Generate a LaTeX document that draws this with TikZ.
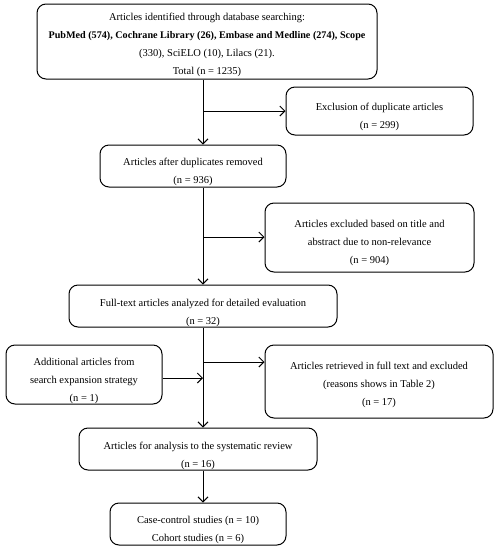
\documentclass[tikz,border=0pt]{standalone}
\usepackage{fontspec}
\setmainfont{Liberation Serif}
\usetikzlibrary{arrows.meta}
\begin{document}
\begin{tikzpicture}[x=1pt,y=-1pt,
  box/.style={draw, rounded corners=9pt, inner sep=0pt, line width=1pt},
  txt/.style={align=center, inner sep=0pt, font=\fontsize{10.5}{18}\selectfont},
  arr/.style={line width=1pt, -{Straight Barb[length=5pt,width=10pt,line width=1pt]}}]
\useasboundingbox (0,0) rectangle (497,550);
\coordinate (s) at (203,0);
\node[box, minimum width=340pt, minimum height=75pt] (top) at (207,41.5) {};
\node[txt] (topt) at ([yshift=-3pt]top.center)
  {Articles identified through database searching:\\
   {\fontsize{10.15}{18}\selectfont\bfseries PubMed (574), Cochrane Library (26), Embase and Medline (274), Scope}\\
   (330), SciELO (10), Lilacs (21).\\
   Total (n = 1235)};
\node[box, minimum width=187pt, minimum height=48pt] (ex1) at (379.5,111) {};
\node[txt] (ex1t) at ([yshift=-6pt]ex1.center)
  {Exclusion of duplicate articles\\(n = 299)};
\node[box, minimum width=186pt, minimum height=42pt] (dup) at (193,166) {};
\node[txt] (dupt) at ([yshift=-6pt]dup.center)
  {Articles after duplicates removed\\(n = 936)};
\node[box, minimum width=209pt, minimum height=69pt] (ex2) at (369.5,237.5) {};
\node[txt] (ex2t) at ([yshift=-5pt]ex2.center)
  {Articles excluded based on title and\\abstract due to non-relevance\\(n = 904)};
\node[box, minimum width=268pt, minimum height=42pt] (full) at (203,306) {};
\node[txt] (fullt) at ([yshift=-7pt]full.center)
  {Full-text articles analyzed for detailed evaluation\\(n = 32)};
\node[box, minimum width=156pt, minimum height=59pt] (add) at (84,374.5) {};
\node[txt] (addt) at ([yshift=-6pt]add.center)
  {Additional articles from\\search expansion strategy\\(n = 1)};
\node[box, minimum width=228pt, minimum height=73pt] (ret) at (379,381.5) {};
\node[txt] (rett) at ([yshift=-3pt]ret.center)
  {Articles retrieved in full text and excluded\\(reasons shows in Table 2)\\(n = 17)};
\node[box, minimum width=238pt, minimum height=42pt] (ana) at (198,449) {};
\node[txt] (anat) at ([yshift=-7pt]ana.center)
  {Articles for analysis to the systematic review\\(n = 16)};
\node[box, minimum width=176pt, minimum height=42pt] (fin) at (198,524) {};
\node[txt] (fint) at ([yshift=-6pt]fin.center)
  {Case-control studies (n = 10)\\Cohort studies (n = 6)};
\coordinate (j1) at (203,111);
\coordinate (j2) at (203,237);
\coordinate (j3) at (203,362);
\coordinate (j4) at (203,378);
\draw[arr] (top.south -| s) -- (dup.north -| s);
\draw[arr] (j1) -- (ex1.west |- j1);
\draw[arr] (dup.south -| s) -- (full.north -| s);
\draw[arr] (j2) -- (ex2.west |- j2);
\draw[arr] (full.south -| s) -- (ana.north -| s);
\draw[arr] (j3) -- (ret.west |- j3);
\draw[arr] (add.east |- j4) -- (j4);
\draw[arr] (ana.south -| s) -- (fin.north -| s);
\end{tikzpicture}
\end{document}
